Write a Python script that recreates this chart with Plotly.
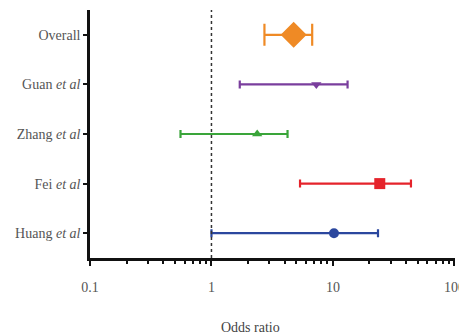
import plotly.graph_objects as go

studies = ["Huang", "Fei", "Zhang", "Guan", "Overall"]
labels = ["Huang <i>et al</i>", "Fei <i>et al</i>", "Zhang <i>et al</i>", "Guan <i>et al</i>", "Overall"]
odds = [10.2, 24.3, 2.38, 7.3, 4.75]
lower = [1.0, 5.36, 0.556, 1.71, 2.73]
upper = [23.5, 43.9, 4.23, 13.2, 6.75]
colors = ["#2b479e", "#e5232b", "#3aa53a", "#7a3e9d", "#ef8a25"]
symbols = ["circle", "square", "triangle-up", "triangle-down", "diamond"]
sizes = [10, 11, 9, 9, 20]
capw = [4, 4, 4, 4, 11]
xticks = [0.1, 1, 10, 100]
xticklabels = ["0.1", "1", "10", "100"]
minor_ticks = [0.2, 0.3, 0.4, 0.5, 0.6, 0.7, 0.8, 0.9, 2, 3, 4, 5, 6, 7, 8, 9,
               20, 30, 40, 50, 60, 70, 80, 90]

SERIF = "Liberation Serif"

fig = go.Figure()
for i, s in enumerate(studies):
    fig.add_trace(go.Scatter(
        x=[odds[i]], y=[i], mode="markers",
        marker=dict(color=colors[i], symbol=symbols[i], size=sizes[i], line=dict(width=0)),
        error_x=dict(type="data", symmetric=False,
                     array=[upper[i] - odds[i]], arrayminus=[odds[i] - lower[i]],
                     color=colors[i], thickness=2.2, width=capw[i]),
        showlegend=False, name=s))

fig.add_shape(type="line", xref="x", yref="paper", x0=1, x1=1, y0=0, y1=1,
              line=dict(color="#333", width=1.5, dash="dot"))

fig.add_annotation(text="Odds ratio", xref="paper", yref="paper", x=0.44, y=0,
                   xanchor="center", yanchor="top", yshift=-60, showarrow=False,
                   font=dict(family=SERIF, size=14, color="#444"))

fig.update_layout(
    width=459, height=326,
    margin=dict(l=82, r=12, t=2, b=76),
    plot_bgcolor="white", paper_bgcolor="white",
    font=dict(family=SERIF, color="#555", size=14),
    xaxis=dict(type="log", range=[-1, 2.005], showgrid=False, zeroline=False,
               automargin=False, ticklabeloverflow="allow",
               showline=True, linecolor="#111", linewidth=2.5,
               ticks="outside", ticklen=5, tickwidth=2, tickcolor="#111",
               tickvals=xticks, ticktext=xticklabels, ticklabelstandoff=9,
               tickfont=dict(family=SERIF, size=14, color="#555"),
               minor=dict(ticks="outside", ticklen=3, tickwidth=1.5, tickcolor="#111",
                          tickvals=minor_ticks)),
    yaxis=dict(range=[-0.5, 4.5], showgrid=False, zeroline=False,
               automargin=False,
               showline=True, linecolor="#111", linewidth=2.5,
               ticks="outside", ticklen=4, tickwidth=2, tickcolor="#111",
               tickvals=list(range(len(studies))), ticktext=labels,
               tickfont=dict(family=SERIF, size=14, color="#555")),
)

fig.write_html("out.html")
